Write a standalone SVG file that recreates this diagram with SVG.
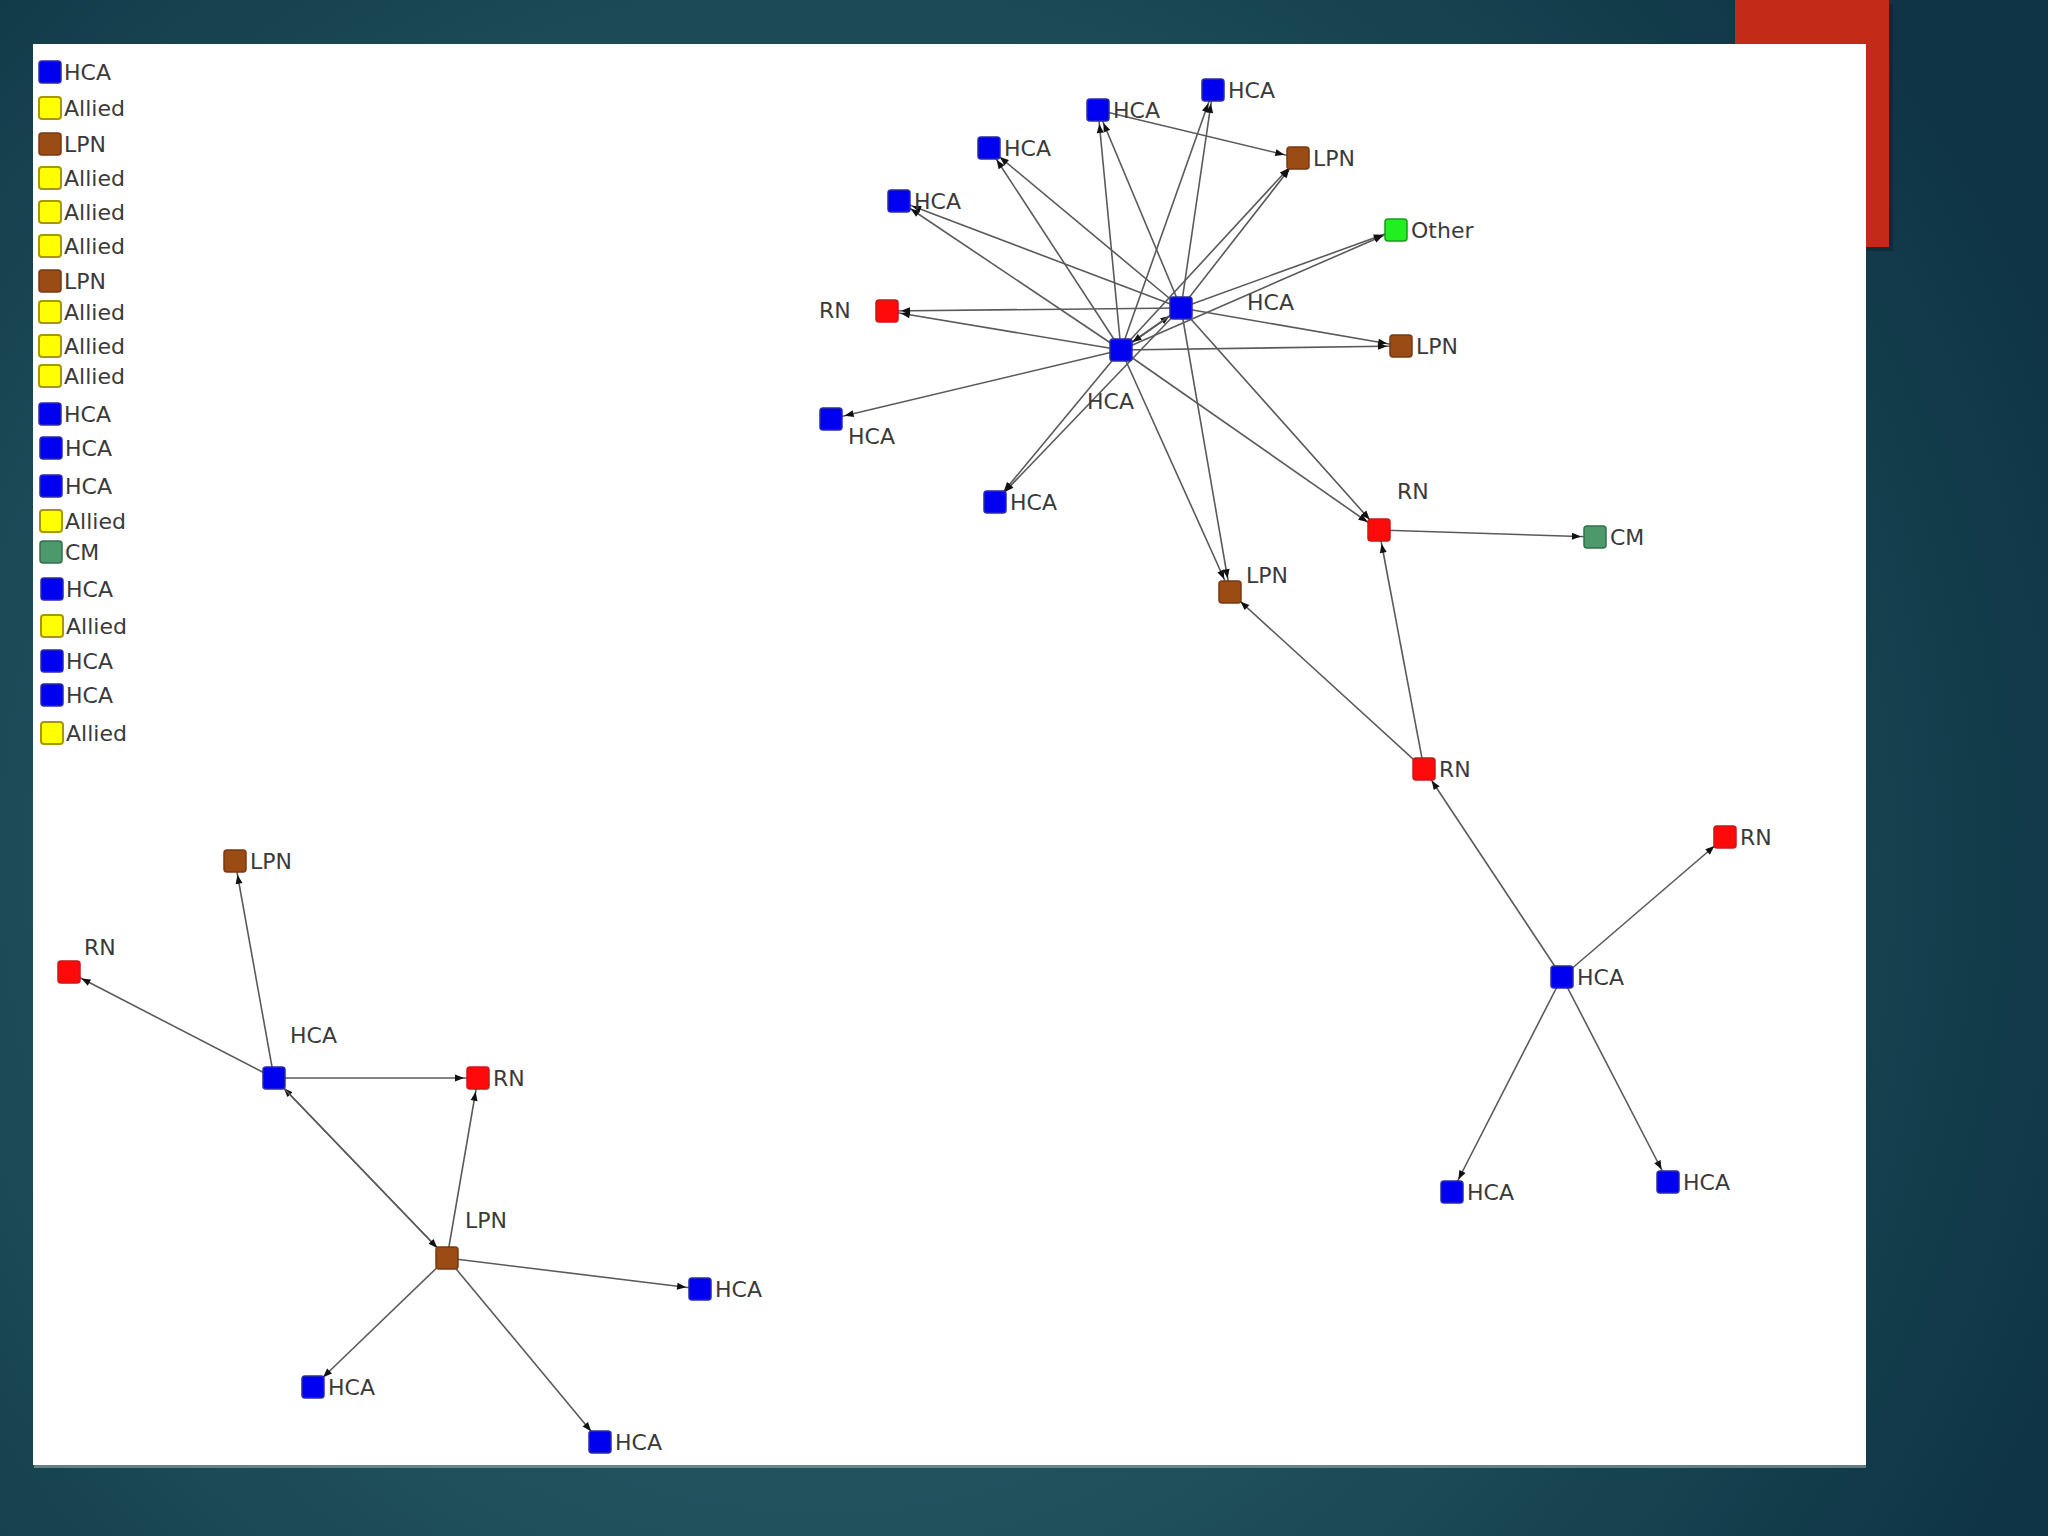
<svg xmlns="http://www.w3.org/2000/svg" width="2048" height="1536" viewBox="0 0 2048 1536">
<defs>
<radialGradient id="bg" cx="820" cy="860" r="1350" gradientUnits="userSpaceOnUse">
<stop offset="0" stop-color="#2c646b"/>
<stop offset="0.55" stop-color="#1f4f5a"/>
<stop offset="1" stop-color="#0e3445"/>
</radialGradient>
<marker id="arr" markerUnits="userSpaceOnUse" markerWidth="9" markerHeight="7" viewBox="0 0 9 7" refX="23" refY="3.5" orient="auto" overflow="visible">
<path d="M0,0 L9,3.5 L0,7 z" fill="#111"/>
</marker>
</defs>
<style>
.n{stroke-width:1.5}
.hca{fill:#0000f0;stroke:#2a2aa8}
.all{fill:#ffff00;stroke:#a89800;stroke-width:2}
.lpn{fill:#9b4b14;stroke:#7a3a12}
.rn{fill:#ff0a0a;stroke:#c81818}
.cm{fill:#4c9a6c;stroke:#33704d}
.oth{fill:#22ee22;stroke:#1a9a1a}
text{font-family:"DejaVu Sans",Verdana,sans-serif;font-size:22px;fill:#3a3a3a}
.e line{stroke:#5a5a5a;stroke-width:1.6;marker-end:url(#arr)}
</style>
<rect x="0" y="0" width="2048" height="1536" fill="url(#bg)"/>
<rect x="1739" y="4" width="154" height="247" fill="#08222c" opacity="0.5"/>
<rect x="1735" y="0" width="154" height="247" fill="#c42a18"/>
<rect x="34" y="47" width="1832" height="1421" fill="#9aa8aa" opacity="0.6"/>
<rect x="33" y="44" width="1833" height="1421" fill="#ffffff"/>

<g id="legend">
<rect class="n hca" x="39" y="61" width="22" height="22" rx="3"/><text x="64" y="80">HCA</text>
<rect class="n all" x="39" y="97" width="22" height="22" rx="3"/><text x="64" y="116">Allied</text>
<rect class="n lpn" x="39" y="133" width="22" height="22" rx="3"/><text x="64" y="152">LPN</text>
<rect class="n all" x="39" y="167" width="22" height="22" rx="3"/><text x="64" y="186">Allied</text>
<rect class="n all" x="39" y="201" width="22" height="22" rx="3"/><text x="64" y="220">Allied</text>
<rect class="n all" x="39" y="235" width="22" height="22" rx="3"/><text x="64" y="254">Allied</text>
<rect class="n lpn" x="39" y="270" width="22" height="22" rx="3"/><text x="64" y="289">LPN</text>
<rect class="n all" x="39" y="301" width="22" height="22" rx="3"/><text x="64" y="320">Allied</text>
<rect class="n all" x="39" y="335" width="22" height="22" rx="3"/><text x="64" y="354">Allied</text>
<rect class="n all" x="39" y="365" width="22" height="22" rx="3"/><text x="64" y="384">Allied</text>
<rect class="n hca" x="39" y="403" width="22" height="22" rx="3"/><text x="64" y="422">HCA</text>
<rect class="n hca" x="40" y="437" width="22" height="22" rx="3"/><text x="65" y="456">HCA</text>
<rect class="n hca" x="40" y="475" width="22" height="22" rx="3"/><text x="65" y="494">HCA</text>
<rect class="n all" x="40" y="510" width="22" height="22" rx="3"/><text x="65" y="529">Allied</text>
<rect class="n cm" x="40" y="541" width="22" height="22" rx="3"/><text x="65" y="560">CM</text>
<rect class="n hca" x="41" y="578" width="22" height="22" rx="3"/><text x="66" y="597">HCA</text>
<rect class="n all" x="41" y="615" width="22" height="22" rx="3"/><text x="66" y="634">Allied</text>
<rect class="n hca" x="41" y="650" width="22" height="22" rx="3"/><text x="66" y="669">HCA</text>
<rect class="n hca" x="41" y="684" width="22" height="22" rx="3"/><text x="66" y="703">HCA</text>
<rect class="n all" x="41" y="722" width="22" height="22" rx="3"/><text x="66" y="741">Allied</text>
</g>

<g id="connectors" class="e">
<line x1="1121" y1="350" x2="887" y2="311"/>
<line x1="1181" y1="308" x2="887" y2="311"/>
<line x1="1121" y1="350" x2="899" y2="201"/>
<line x1="1181" y1="308" x2="899" y2="201"/>
<line x1="1121" y1="350" x2="989" y2="148"/>
<line x1="1181" y1="308" x2="989" y2="148"/>
<line x1="1121" y1="350" x2="1098" y2="110"/>
<line x1="1181" y1="308" x2="1098" y2="110"/>
<line x1="1121" y1="350" x2="1213" y2="90"/>
<line x1="1181" y1="308" x2="1213" y2="90"/>
<line x1="1098" y1="110" x2="1298" y2="158"/>
<line x1="1121" y1="350" x2="1298" y2="158"/>
<line x1="1181" y1="308" x2="1298" y2="158"/>
<line x1="1121" y1="350" x2="1396" y2="230"/>
<line x1="1181" y1="308" x2="1396" y2="230"/>
<line x1="1121" y1="350" x2="1401" y2="346"/>
<line x1="1181" y1="308" x2="1401" y2="346"/>
<line x1="1121" y1="350" x2="831" y2="419"/>
<line x1="1121" y1="350" x2="995" y2="502"/>
<line x1="1181" y1="308" x2="995" y2="502"/>
<line x1="1121" y1="350" x2="1379" y2="530"/>
<line x1="1181" y1="308" x2="1379" y2="530"/>
<line x1="1121" y1="350" x2="1230" y2="592"/>
<line x1="1181" y1="308" x2="1230" y2="592"/>
<line x1="1121" y1="350" x2="1181" y2="308"/>
<line x1="1181" y1="308" x2="1121" y2="350"/>
<line x1="1379" y1="530" x2="1595" y2="537"/>
<line x1="1424" y1="769" x2="1379" y2="530"/>
<line x1="1424" y1="769" x2="1230" y2="592"/>
<line x1="1562" y1="977" x2="1424" y2="769"/>
<line x1="1562" y1="977" x2="1725" y2="837"/>
<line x1="1562" y1="977" x2="1452" y2="1192"/>
<line x1="1562" y1="977" x2="1668" y2="1182"/>
<line x1="274" y1="1078" x2="235" y2="861"/>
<line x1="274" y1="1078" x2="69" y2="972"/>
<line x1="274" y1="1078" x2="478" y2="1078"/>
<line x1="447" y1="1258" x2="274" y2="1078"/>
<line x1="274" y1="1078" x2="447" y2="1258"/>
<line x1="447" y1="1258" x2="478" y2="1078"/>
<line x1="447" y1="1258" x2="700" y2="1289"/>
<line x1="447" y1="1258" x2="313" y2="1387"/>
<line x1="447" y1="1258" x2="600" y2="1442"/>
</g>

<g id="hubA"><rect class="n hca" x="1110" y="339" width="22" height="22" rx="3"/><text x="1087" y="409">HCA</text></g>
<g id="hubB"><rect class="n hca" x="1170" y="297" width="22" height="22" rx="3"/><text x="1247" y="310">HCA</text></g>
<g id="h1"><rect class="n hca" x="1202" y="79" width="22" height="22" rx="3"/><text x="1228" y="98">HCA</text></g>
<g id="h2"><rect class="n hca" x="1087" y="99" width="22" height="22" rx="3"/><text x="1113" y="118">HCA</text></g>
<g id="h3"><rect class="n hca" x="978" y="137" width="22" height="22" rx="3"/><text x="1004" y="156">HCA</text></g>
<g id="h4"><rect class="n hca" x="888" y="190" width="22" height="22" rx="3"/><text x="914" y="209">HCA</text></g>
<g id="lpn1"><rect class="n lpn" x="1287" y="147" width="22" height="22" rx="3"/><text x="1313" y="166">LPN</text></g>
<g id="other"><rect class="n oth" x="1385" y="219" width="22" height="22" rx="3"/><text x="1411" y="238">Other</text></g>
<g id="rn1"><rect class="n rn" x="876" y="300" width="22" height="22" rx="3"/><text x="819" y="318">RN</text></g>
<g id="lpn2"><rect class="n lpn" x="1390" y="335" width="22" height="22" rx="3"/><text x="1416" y="354">LPN</text></g>
<g id="h5"><rect class="n hca" x="820" y="408" width="22" height="22" rx="3"/><text x="848" y="444">HCA</text></g>
<g id="h6"><rect class="n hca" x="984" y="491" width="22" height="22" rx="3"/><text x="1010" y="510">HCA</text></g>
<g id="rn2"><rect class="n rn" x="1368" y="519" width="22" height="22" rx="3"/><text x="1397" y="499">RN</text></g>
<g id="cm"><rect class="n cm" x="1584" y="526" width="22" height="22" rx="3"/><text x="1610" y="545">CM</text></g>
<g id="lpn3"><rect class="n lpn" x="1219" y="581" width="22" height="22" rx="3"/><text x="1246" y="583">LPN</text></g>
<g id="rn3"><rect class="n rn" x="1413" y="758" width="22" height="22" rx="3"/><text x="1439" y="777">RN</text></g>
<g id="h7"><rect class="n hca" x="1551" y="966" width="22" height="22" rx="3"/><text x="1577" y="985">HCA</text></g>
<g id="rn4"><rect class="n rn" x="1714" y="826" width="22" height="22" rx="3"/><text x="1740" y="845">RN</text></g>
<g id="h8"><rect class="n hca" x="1441" y="1181" width="22" height="22" rx="3"/><text x="1467" y="1200">HCA</text></g>
<g id="h9"><rect class="n hca" x="1657" y="1171" width="22" height="22" rx="3"/><text x="1683" y="1190">HCA</text></g>
<g id="lpn4"><rect class="n lpn" x="224" y="850" width="22" height="22" rx="3"/><text x="250" y="869">LPN</text></g>
<g id="rn5"><rect class="n rn" x="58" y="961" width="22" height="22" rx="3"/><text x="84" y="955">RN</text></g>
<g id="h10"><rect class="n hca" x="263" y="1067" width="22" height="22" rx="3"/><text x="290" y="1043">HCA</text></g>
<g id="rn6"><rect class="n rn" x="467" y="1067" width="22" height="22" rx="3"/><text x="493" y="1086">RN</text></g>
<g id="lpn5"><rect class="n lpn" x="436" y="1247" width="22" height="22" rx="3"/><text x="465" y="1228">LPN</text></g>
<g id="h11"><rect class="n hca" x="689" y="1278" width="22" height="22" rx="3"/><text x="715" y="1297">HCA</text></g>
<g id="h12"><rect class="n hca" x="302" y="1376" width="22" height="22" rx="3"/><text x="328" y="1395">HCA</text></g>
<g id="h13"><rect class="n hca" x="589" y="1431" width="22" height="22" rx="3"/><text x="615" y="1450">HCA</text></g>
</svg>
